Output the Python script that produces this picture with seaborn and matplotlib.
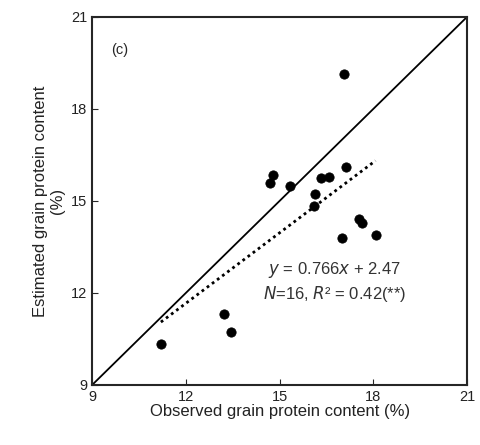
import numpy as np
import matplotlib
matplotlib.use('Agg')
import matplotlib.pyplot as plt
import seaborn as sns

observed = [11.20, 13.22, 13.44, 14.69, 14.80, 15.33, 16.13, 16.10,
            16.32, 16.57, 17.12, 17.06, 17.00, 17.54, 17.65, 18.07]
estimated = [10.34, 11.30, 10.71, 15.59, 15.84, 15.48, 15.24, 14.84,
             15.75, 15.78, 16.11, 19.13, 13.80, 14.41, 14.28, 13.88]
slope, intercept = 0.766, 2.47
ticks = [9, 12, 15, 18, 21]

sns.set_style('ticks')
plt.rcParams['font.family'] = ['Liberation Sans', 'DejaVu Sans']

fig = plt.figure(figsize=(4.8, 4.45), dpi=100)
ax = fig.add_axes([0.192, 0.135, 0.781, 0.827])

sns.scatterplot(x=observed, y=estimated, ax=ax, color='black', s=45, edgecolor='black', zorder=3)
ax.plot([9, 21], [9, 21], color='black', lw=1.3)
fx = np.array([min(observed), max(observed)])
ax.plot(fx, slope * fx + intercept, color='black', lw=2, linestyle=(0, (1, 1.3)))

ax.set_xlim(9, 21)
ax.set_ylim(9, 21)
ax.set_xticks(ticks)
ax.set_yticks(ticks)
ax.tick_params(direction='in', labelsize=10.5, length=4, labelcolor='#222222')
for s in ax.spines.values():
    s.set_linewidth(1.5)
ax.set_xlabel('Observed grain protein content (%)', fontsize=12, labelpad=0, color='#222222')
ax.set_ylabel('Estimated grain protein content\n(%)', fontsize=12, labelpad=4, color='#222222')

ax.text(0.05, 0.93, '(c)', transform=ax.transAxes, fontsize=10.5, va='top')
ax.text(16.75, 12.75, '$\\it{y}$ = 0.766$\\it{x}$ + 2.47', fontsize=12, ha='center', va='center',
        color='#333333')
ax.text(16.75, 11.95, '$\\it{N}$=16, $\\it{R}$² = 0.42(**)', fontsize=12, ha='center', va='center',
        color='#333333')

fig.savefig('out.png', dpi=100)
